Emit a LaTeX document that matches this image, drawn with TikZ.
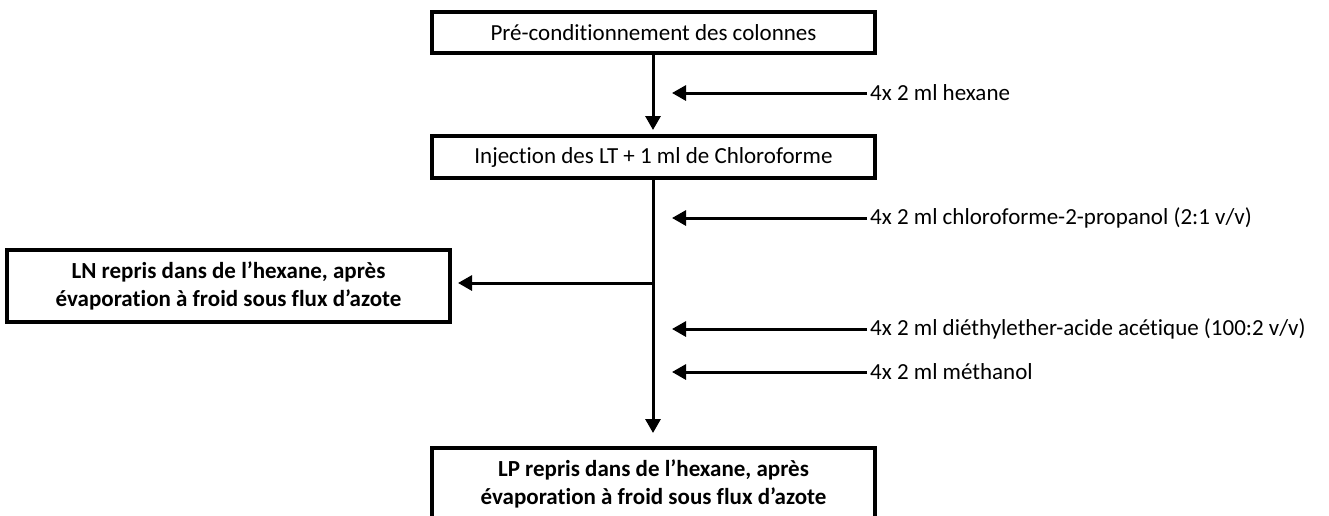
\documentclass[tikz,border=0pt]{standalone}
\usepackage{fontspec}
\setmainfont{Carlito}[RawFeature={-liga;-clig;-calt;-dlig}]
\usetikzlibrary{arrows.meta,positioning}

\tikzset{
 boite/.style={draw, line width=4pt, minimum width=443pt, align=center, inner sep=0pt,
   font=\fontsize{23}{28}\selectfont},
 boitegras/.style={boite, font=\fontsize{23}{28}\selectfont\bfseries},
 fleche/.style={-{Triangle[length=14pt,width=15pt]}, line width=3pt},
 dose/.style={anchor=west, inner sep=0pt, font=\fontsize{23}{28}\selectfont},
}

\begin{document}
\begin{tikzpicture}[x=1pt,y=-1pt]
 \useasboundingbox (0,0) rectangle (1329,515);
 %
 \node[boite, minimum height=41pt] (precond) at (653.5,32.5) {Pré-conditionnement des colonnes};
 \node[boite, minimum height=42pt] (inject) at (653.5,157) {Injection des LT + 1 ml de Chloroforme};
 \node[boitegras, minimum height=72pt] (ln) at (228.5,286) {LN repris dans de l’hexane, après\\évaporation à froid sous flux d’azote};
 \node[boitegras, anchor=north, inner ysep=12pt] (lp) at (653.5,446) {LP repris dans de l’hexane, après\\évaporation à froid sous flux d’azote};
 %
 \coordinate (axe) at (653,0);
 \coordinate (pointe) at (672,0);
 \coordinate (bras) at (653,283);
 %
 \draw[fleche, shorten >=4pt] (precond.south -| axe) -- (inject.north -| axe);
 \draw[fleche, shorten >=13pt] (inject.south -| axe) -- (lp.north -| axe);
 \draw[fleche, shorten >=6pt] (bras) -- (bras -| ln.east);
 %
 \node[dose] (hexane) at (870,93) {4x 2 ml hexane};
 \node[dose] (chloro) at (870,218) {4x 2 ml chloroforme-2-propanol (2:1 v/v)};
 \node[dose] (ether) at (870,329) {4x 2 ml diéthylether-acide acétique (100:2 v/v)};
 \node[dose] (methanol) at (870,372) {4x 2 ml méthanol};
 %
 \draw[fleche] ([xshift=-3pt]hexane.west) -- (hexane.west -| pointe);
 \draw[fleche] ([xshift=-3pt]chloro.west) -- (chloro.west -| pointe);
 \draw[fleche] ([xshift=-3pt]ether.west) -- (ether.west -| pointe);
 \draw[fleche] ([xshift=-3pt]methanol.west) -- (methanol.west -| pointe);
\end{tikzpicture}
\end{document}
